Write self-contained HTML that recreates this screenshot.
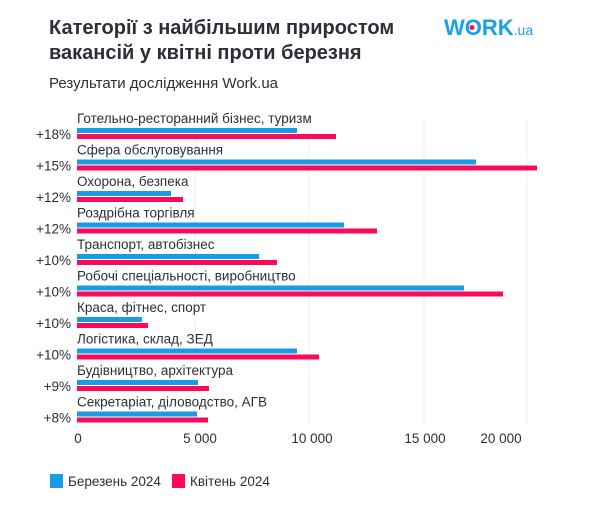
<!DOCTYPE html>
<html><head><meta charset="utf-8"><style>
body{margin:0;background:#fff;}
svg text{font-family:"Liberation Sans","DejaVu Sans",sans-serif;fill:#2b2f38;}
</style></head><body>
<svg width="610" height="510" xmlns="http://www.w3.org/2000/svg">
<rect width="610" height="510" fill="#fff"/>
<text x="49" y="34" font-size="20" font-weight="bold" fill="#1e2128">Категорії з найбільшим приростом</text>
<text x="49" y="59" font-size="20" font-weight="bold" fill="#1e2128">вакансій у квітні проти березня</text>
<text x="49" y="88" font-size="15" fill="#555b66">Результати дослідження Work.ua</text>
<text x="444" y="35" font-size="22" font-weight="bold" style="fill:#1aa0e8">WORK<tspan font-size="14" font-weight="normal">.ua</tspan></text>
<circle cx="472" cy="27.5" r="2.5" fill="#ff0f5a"/>
<g stroke="#eef0f3" stroke-width="1">
<line x1="195" y1="120" x2="195" y2="425"/>
<line x1="309" y1="120" x2="309" y2="425"/>
<line x1="424" y1="120" x2="424" y2="425"/>
<line x1="527" y1="120" x2="527" y2="425"/>
</g>
<g font-size="13.5">
<text x="77" y="123">Готельно-ресторанний бізнес, туризм</text>
<text x="77" y="154.5">Сфера обслуговування</text>
<text x="77" y="186">Охорона, безпека</text>
<text x="77" y="217.5">Роздрібна торгівля</text>
<text x="77" y="249">Транспорт, автобізнес</text>
<text x="77" y="280.5">Робочі спеціальності, виробництво</text>
<text x="77" y="312">Краса, фітнес, спорт</text>
<text x="77" y="343.5">Логістика, склад, ЗЕД</text>
<text x="77" y="375">Будівництво, архітектура</text>
<text x="77" y="406.5">Секретаріат, діловодство, АГВ</text>
</g>
<g font-size="13.5" text-anchor="end">
<text x="71" y="139">+18%</text>
<text x="71" y="170.5">+15%</text>
<text x="71" y="202">+12%</text>
<text x="71" y="233.5">+12%</text>
<text x="71" y="265">+10%</text>
<text x="71" y="296.5">+10%</text>
<text x="71" y="328">+10%</text>
<text x="71" y="359.5">+10%</text>
<text x="71" y="391">+9%</text>
<text x="71" y="422.5">+8%</text>
</g>
<g fill="#1a9be6">
<rect x="77" y="128" width="220" height="5"/>
<rect x="77" y="159.5" width="399" height="5"/>
<rect x="77" y="191" width="94" height="5"/>
<rect x="77" y="222.5" width="267" height="5"/>
<rect x="77" y="254" width="182" height="5"/>
<rect x="77" y="285.5" width="387" height="5"/>
<rect x="77" y="317" width="65" height="5"/>
<rect x="77" y="348.5" width="220" height="5"/>
<rect x="77" y="380" width="121" height="5"/>
<rect x="77" y="411.5" width="120" height="5"/>
</g>
<g fill="#fb0a5a">
<rect x="77" y="134" width="259" height="5"/>
<rect x="77" y="165.5" width="460" height="5"/>
<rect x="77" y="197" width="106" height="5"/>
<rect x="77" y="228.5" width="300" height="5"/>
<rect x="77" y="260" width="200" height="5"/>
<rect x="77" y="291.5" width="426" height="5"/>
<rect x="77" y="323" width="71" height="5"/>
<rect x="77" y="354.5" width="242" height="5"/>
<rect x="77" y="386" width="132" height="5"/>
<rect x="77" y="417.5" width="131" height="5"/>
</g>
<g font-size="13.5" text-anchor="middle">
<text x="78" y="443">0</text>
<text x="200" y="443">5 000</text>
<text x="312" y="443">10 000</text>
<text x="425" y="443">15 000</text>
<text x="501" y="443">20 000</text>
</g>
<rect x="50" y="474" width="13" height="14" fill="#1a9be6"/>
<text x="68" y="486" font-size="13.5">Березень 2024</text>
<rect x="172" y="474" width="13" height="14" fill="#fb0a5a"/>
<text x="190" y="486" font-size="13.5">Квітень 2024</text>
</svg>
</body></html>
